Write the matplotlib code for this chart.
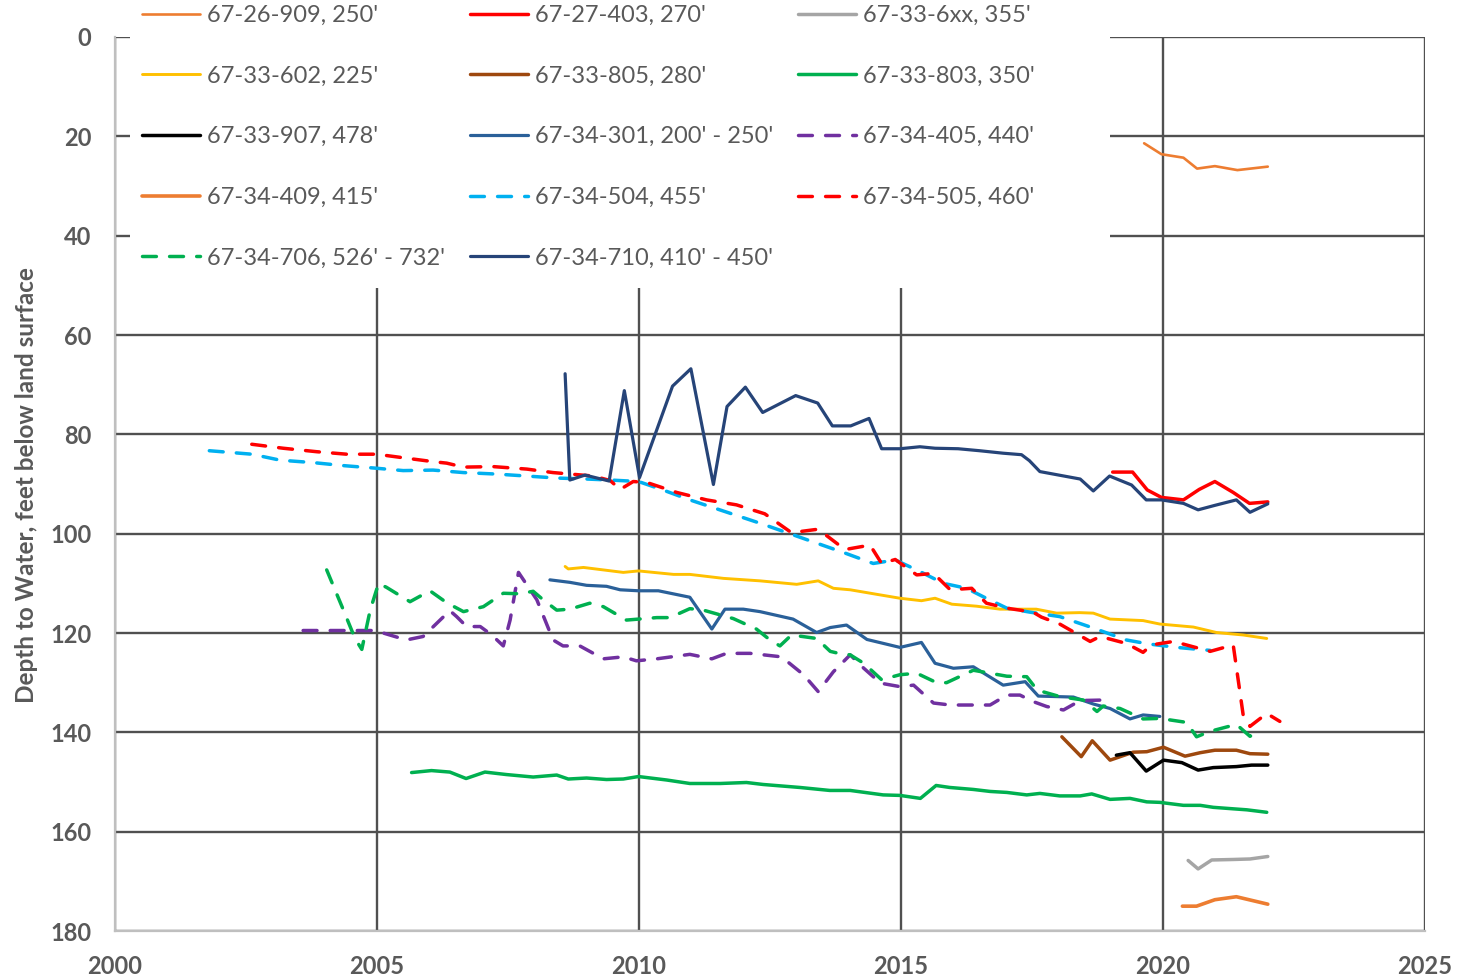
import matplotlib
matplotlib.use("Agg")
import matplotlib.pyplot as plt
from matplotlib.patches import Rectangle

plt.rcParams['font.family'] = ['Lato', 'DejaVu Sans']

# ---------------- data ----------------
w26909_x = [2019.64, 2019.97, 2020.39, 2020.65, 2020.99, 2021.42, 2022.0]
w26909_y = [21.4, 23.6, 24.3, 26.5, 26.0, 26.8, 26.1]

w27403_x = [2019.04, 2019.42, 2019.70, 2019.97, 2020.39, 2020.69, 2020.99, 2021.34, 2021.65, 2022.0]
w27403_y = [87.6, 87.6, 91.2, 92.7, 93.2, 91.1, 89.5, 91.7, 93.9, 93.6]

w336xx_x = [2020.48, 2020.67, 2020.93, 2021.34, 2021.66, 2022.0]
w336xx_y = [165.8, 167.5, 165.7, 165.6, 165.5, 165.0]

w33602_x = [2008.59, 2008.65, 2008.94, 2009.70, 2009.99, 2010.66, 2010.97, 2011.61, 2012.31,
            2013.01, 2013.42, 2013.71, 2014.03, 2014.53, 2014.98, 2015.39, 2015.65, 2015.97,
            2016.44, 2016.89, 2017.58, 2017.97, 2018.41, 2018.67, 2018.99, 2019.62, 2019.94,
            2020.58, 2021.02, 2021.53, 2021.98]
w33602_y = [106.6, 107.1, 106.8, 107.8, 107.5, 108.2, 108.2, 109.0, 109.5,
            110.2, 109.5, 111.0, 111.3, 112.2, 113.0, 113.5, 113.0, 114.2,
            114.6, 115.2, 115.2, 116.0, 115.9, 116.0, 117.2, 117.5, 118.2,
            118.8, 119.9, 120.4, 121.1]

w33805_x = [2018.07, 2018.44, 2018.65, 2018.99, 2019.43, 2019.69, 2020.01, 2020.42, 2020.71,
            2020.99, 2021.40, 2021.66, 2022.0]
w33805_y = [140.9, 144.9, 141.7, 145.6, 144.0, 143.9, 143.0, 144.8, 144.1,
            143.6, 143.6, 144.3, 144.4]

w33803_x = [2005.66, 2006.04, 2006.39, 2006.70, 2007.06, 2007.47, 2007.98, 2008.43, 2008.65,
            2009.00, 2009.38, 2009.70, 2009.99, 2010.53, 2010.97, 2011.55, 2012.05, 2012.37,
            2013.07, 2013.64, 2014.03, 2014.66, 2014.98, 2015.37, 2015.67, 2015.93, 2016.38,
            2016.70, 2017.02, 2017.40, 2017.65, 2018.03, 2018.42, 2018.64, 2018.99, 2019.37,
            2019.69, 2019.94, 2020.39, 2020.71, 2020.96, 2021.34, 2021.60, 2021.98]
w33803_y = [148.1, 147.7, 148.0, 149.3, 148.0, 148.5, 149.0, 148.6, 149.4,
            149.2, 149.5, 149.4, 148.9, 149.6, 150.3, 150.3, 150.1, 150.5,
            151.1, 151.7, 151.7, 152.6, 152.7, 153.3, 150.7, 151.1, 151.5,
            151.9, 152.1, 152.6, 152.3, 152.8, 152.8, 152.4, 153.5, 153.3,
            154.0, 154.1, 154.7, 154.7, 155.1, 155.4, 155.6, 156.1]

w33907_x = [2019.11, 2019.37, 2019.68, 2020.01, 2020.36, 2020.67, 2020.96, 2021.40, 2021.69, 2022.0]
w33907_y = [144.6, 144.1, 147.8, 145.6, 146.1, 147.6, 147.1, 146.9, 146.6, 146.6]

w34301_x = [2008.30, 2008.68, 2009.00, 2009.38, 2009.64, 2009.99, 2010.37, 2010.97, 2011.39,
            2011.64, 2011.99, 2012.31, 2012.94, 2013.39, 2013.65, 2013.96, 2014.35, 2014.98,
            2015.39, 2015.65, 2016.00, 2016.38, 2016.95, 2017.37, 2017.62, 2018.29, 2018.67,
            2018.99, 2019.37, 2019.62, 2019.94]
w34301_y = [109.3, 109.8, 110.4, 110.6, 111.3, 111.5, 111.5, 112.8, 119.2,
            115.2, 115.2, 115.7, 117.2, 119.9, 118.9, 118.4, 121.3, 122.9,
            121.9, 126.1, 127.1, 126.8, 130.5, 129.8, 132.7, 132.9, 134.3,
            135.2, 137.3, 136.5, 136.8]

w34405_x = [2003.59, 2004.48, 2004.96, 2005.56, 2005.88, 2006.39, 2006.52, 2006.71, 2006.97,
            2007.19, 2007.41, 2007.54, 2007.70, 2008.05, 2008.36, 2008.55, 2008.87, 2009.32,
            2009.70, 2009.95, 2010.34, 2010.97, 2011.39, 2011.67, 2012.12, 2012.72, 2013.14,
            2013.42, 2013.71, 2014.03, 2014.29, 2014.61, 2014.98, 2015.24, 2015.62, 2015.94,
            2016.70, 2017.02, 2017.27, 2017.52, 2017.78, 2018.10, 2018.42, 2018.86]
w34405_y = [119.5, 119.5, 119.5, 121.4, 120.7, 115.5, 116.7, 118.7, 118.7,
            120.4, 122.6, 117.4, 107.8, 113.3, 121.4, 122.6, 122.6, 125.2,
            124.8, 125.6, 125.2, 124.3, 125.2, 124.1, 124.1, 124.8, 128.4,
            131.8, 127.8, 124.4, 127.1, 130.1, 130.8, 130.5, 134.1, 134.5,
            134.5, 132.5, 132.5, 133.8, 134.8, 135.5, 133.6, 133.5]

w34409_x = [2020.37, 2020.64, 2020.99, 2021.40, 2022.0]
w34409_y = [175.0, 175.0, 173.7, 173.1, 174.6]

w34504_x = [2001.80, 2002.61, 2003.15, 2003.79, 2004.36, 2004.96, 2005.50, 2006.07, 2006.65,
            2007.28, 2007.86, 2008.43, 2009.00, 2009.45, 2009.99, 2010.43, 2010.97, 2011.74,
            2012.31, 2012.85, 2013.39, 2013.93, 2014.47, 2014.89, 2015.30, 2015.81, 2016.25,
            2016.57, 2017.02, 2017.46, 2018.03, 2018.67, 2019.30, 2019.72, 2020.26, 2020.90]
w34504_y = [83.3, 84.0, 85.2, 85.7, 86.3, 86.8, 87.3, 87.2, 87.7,
            88.0, 88.4, 88.8, 89.0, 89.2, 89.5, 91.1, 93.2, 95.9,
            97.9, 99.9, 101.9, 103.9, 106.0, 105.3, 107.3, 110.0, 111.0,
            112.7, 115.0, 115.8, 116.7, 119.0, 121.4, 122.2, 122.9, 123.5]

w34505_x = [2002.61, 2003.21, 2003.85, 2004.42, 2004.99, 2005.56, 2006.07, 2006.33, 2006.65,
            2007.22, 2007.86, 2008.36, 2009.13, 2009.45, 2009.64, 2009.89, 2010.15, 2010.72,
            2011.29, 2011.86, 2012.40, 2012.91, 2013.42, 2013.93, 2014.41, 2014.63, 2014.89,
            2015.30, 2015.62, 2015.94, 2016.35, 2016.63, 2017.02, 2017.52, 2017.68, 2018.03,
            2018.61, 2018.80, 2019.30, 2019.62, 2019.78, 2020.20, 2020.90, 2021.34, 2021.53,
            2021.66, 2021.98, 2022.23]
w34505_y = [82.0, 82.8, 83.5, 84.0, 84.0, 84.8, 85.5, 85.8, 86.6,
            86.5, 87.0, 87.7, 88.4, 89.3, 91.1, 89.5, 89.7, 91.7,
            93.2, 94.2, 96.0, 99.8, 99.1, 103.2, 102.3, 106.0, 105.2,
            108.3, 108.0, 111.3, 111.0, 114.0, 115.0, 115.8, 116.8, 118.2,
            121.7, 120.7, 122.1, 123.9, 122.4, 121.7, 123.7, 122.4, 136.5,
            138.8, 136.2, 137.8]

w34706_x = [2004.04, 2004.36, 2004.58, 2004.71, 2004.87, 2005.03, 2005.18, 2005.63, 2006.01,
            2006.33, 2006.65, 2007.03, 2007.41, 2007.73, 2007.98, 2008.17, 2008.43, 2008.68,
            2009.06, 2009.32, 2009.76, 2010.34, 2010.59, 2010.97, 2011.23, 2011.80, 2012.24,
            2012.50, 2012.69, 2012.91, 2013.39, 2013.65, 2013.81, 2014.03, 2014.29, 2014.63,
            2014.98, 2015.30, 2015.68, 2015.87, 2016.38, 2017.02, 2017.40, 2017.60, 2018.03,
            2018.48, 2018.74, 2018.86, 2019.18, 2019.62, 2019.94, 2020.45, 2020.64, 2020.90,
            2021.40, 2021.66, 2021.85]
w34706_y = [107.3, 115.4, 121.1, 123.3, 115.4, 110.0, 110.8, 113.7, 111.5,
            113.9, 115.7, 114.7, 112.0, 112.1, 111.6, 113.3, 115.4, 115.2,
            114.0, 114.7, 117.4, 116.9, 116.9, 115.1, 115.4, 117.1, 119.2,
            121.4, 122.6, 120.4, 121.1, 123.7, 124.1, 124.4, 126.1, 129.4,
            128.4, 128.1, 130.0, 130.0, 127.5, 128.7, 128.8, 131.5, 132.8,
            133.5, 135.8, 134.7, 135.2, 137.3, 137.2, 138.0, 140.9, 139.8,
            138.4, 140.8, 139.8]

w34710_x = [2008.59, 2008.68, 2008.97, 2009.43, 2009.72, 2010.01, 2010.64, 2010.99, 2011.42,
            2011.68, 2012.03, 2012.36, 2012.99, 2013.41, 2013.69, 2014.04, 2014.39, 2014.63,
            2014.98, 2015.36, 2015.65, 2016.09, 2016.50, 2016.95, 2017.30, 2017.45, 2017.65,
            2018.42, 2018.67, 2018.98, 2019.40, 2019.68, 2019.97, 2020.39, 2020.67, 2020.99,
            2021.40, 2021.66, 2022.0]
w34710_y = [67.8, 89.2, 88.2, 89.4, 71.2, 88.7, 70.3, 66.8, 90.1,
            74.4, 70.5, 75.6, 72.2, 73.7, 78.3, 78.3, 76.8, 82.9,
            82.9, 82.5, 82.8, 82.9, 83.3, 83.8, 84.1, 85.3, 87.5,
            89.0, 91.4, 88.4, 90.2, 93.2, 93.2, 93.9, 95.2, 94.3,
            93.2, 95.7, 94.0]

labels = ["67-26-909, 250'", "67-27-403, 270'", "67-33-6xx, 355'",
          "67-33-602, 225'", "67-33-805, 280'", "67-33-803, 350'",
          "67-33-907, 478'", "67-34-301, 200' - 250'", "67-34-405, 440'",
          "67-34-409, 415'", "67-34-504, 455'", "67-34-505, 460'",
          "67-34-706, 526' - 732'", "67-34-710, 410' - 450'"]
xs = [w26909_x, w27403_x, w336xx_x, w33602_x, w33805_x, w33803_x, w33907_x,
      w34301_x, w34405_x, w34409_x, w34504_x, w34505_x, w34706_x, w34710_x]
ys = [w26909_y, w27403_y, w336xx_y, w33602_y, w33805_y, w33803_y, w33907_y,
      w34301_y, w34405_y, w34409_y, w34504_y, w34505_y, w34706_y, w34710_y]
colors = ['#ED7D31', '#FF0000', '#A5A5A5', '#FFC000', '#9E480E', '#00B050', '#000000',
          '#2A6099', '#7030A0', '#ED7D31', '#00B0F0', '#FF0000', '#00B050', '#264478']
dashed = [False, False, False, False, False, False, False,
          False, True, False, True, True, True, False]
widths = [1.9, 2.5, 2.5, 2.1, 2.5, 2.5, 2.5, 2.3, 2.5, 2.6, 2.5, 2.5, 2.5, 2.3]

x_ticks = [2000, 2005, 2010, 2015, 2020, 2025]
y_ticks = [0, 20, 40, 60, 80, 100, 120, 140, 160, 180]

# ---------------- figure ----------------
W, H = 1459, 980
fig = plt.figure(figsize=(W / 100, H / 100), dpi=100)
L, R, T, B = 115, 1425, 37, 931
ax = fig.add_axes([L / W, 1 - B / H, (R - L) / W, (B - T) / H])

handles = []
for i in range(len(labels)):
    ls = (0, (4.0, 3.8)) if dashed[i] else '-'
    h, = ax.plot(xs[i], ys[i], color=colors[i], lw=widths[i], linestyle=ls,
                 dash_capstyle='round', solid_capstyle='round', solid_joinstyle='round',
                 zorder=3, label=labels[i])
    handles.append(h)

ax.set_xlim(2000, 2025)
ax.set_ylim(180, 0)
ax.set_xticks(x_ticks)
ax.set_yticks(y_ticks)
ax.set_axisbelow(True)
ax.grid(True, color='#505050', lw=1.7)
for s in ['top', 'right']:
    ax.spines[s].set_visible(False)
ax.spines['left'].set_color('#BFBFBF')
ax.spines['bottom'].set_color('#BFBFBF')
ax.spines['left'].set_linewidth(1.6)
ax.spines['bottom'].set_linewidth(1.6)
ax.tick_params(length=0, pad=17, labelsize=17, labelcolor='#595959')
for lab in ax.get_xticklabels() + ax.get_yticklabels():
    lab.set_fontweight('bold')

# white area behind legend (covers gridlines)
rect = Rectangle((130 / W, 1 - 288 / H), (1110 - 130) / W, 288 / H,
                 transform=fig.transFigure, facecolor='white', edgecolor='none',
                 zorder=1.5, clip_on=False)
ax.add_patch(rect)

order = [0, 3, 6, 9, 12, 1, 4, 7, 10, 13, 2, 5, 8, 11]
leg = fig.legend([handles[k] for k in order], [labels[k] for k in order],
                 ncol=3, loc='upper left', bbox_to_anchor=(142 / W, 1 - 5 / H),
                 frameon=False, fontsize=17, labelcolor='#595959',
                 handlelength=2.45, handletextpad=0.3, columnspacing=1.05,
                 labelspacing=1.68, borderpad=0, borderaxespad=0)

fig.text(27 / W, 1 - 485 / H, 'Depth to Water, feet below land surface', rotation=90,
         ha='center', va='center', fontsize=17.5, fontweight='bold', color='#595959')

fig.savefig('out.png', dpi=100, facecolor='white')
